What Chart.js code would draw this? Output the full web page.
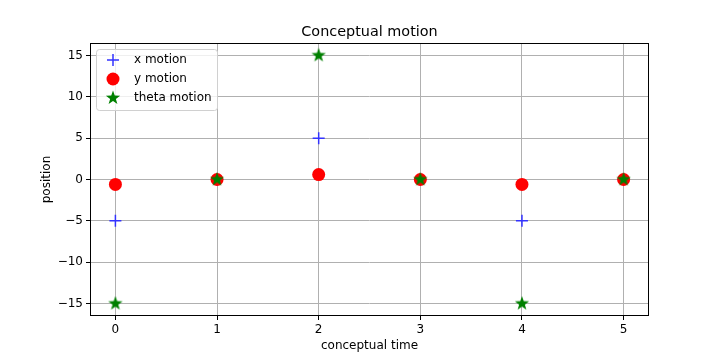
<!DOCTYPE html>
<html>
<head>
<meta charset="utf-8">
<script src="https://cdn.jsdelivr.net/npm/chart.js@4"></script>
<style>
  html, body { margin: 0; padding: 0; background: #fff; }
  #wrap { width: 720px; height: 360px; }
</style>
</head>
<body>
<div id="wrap"><canvas id="c"></canvas></div>
<script>
// data
const times = [0, 1, 2, 3, 4, 5];
const xMotion = [-5, 0, 5, 0, -5, 0];
const yMotion = [-0.6, 0, 0.6, 0, -0.6, 0];
const thetaMotion = [-15, 0, 15, 0, -15, 0];
const xTicks = [0, 1, 2, 3, 4, 5];
const yTicks = [-15, -10, -5, 0, 5, 10, 15];
const seriesNames = ['x motion', 'y motion', 'theta motion'];

const FONT = 'DejaVu Sans';

// filled star marker like matplotlib '*'
function starImage(size, color) {
  const cv = document.createElement('canvas');
  cv.width = size; cv.height = size;
  const g = cv.getContext('2d');
  const c = size / 2, ro = size / 2 - 0.5, ri = ro * 0.4;
  g.beginPath();
  for (let i = 0; i < 10; i++) {
    const r = i % 2 ? ri : ro;
    const a = -Math.PI / 2 + i * Math.PI / 5;
    const px = c + r * Math.cos(a), py = c + r * Math.sin(a);
    i ? g.lineTo(px, py) : g.moveTo(px, py);
  }
  g.closePath();
  g.fillStyle = color;
  g.fill();
  return cv;
}
const star = starImage(16, '#008000');

const pts = ys => times.map((t, i) => ({ x: t, y: ys[i] }));
const minus = v => String(v).replace('-', '\u2212');

const frameAndLegend = {
  id: 'frameAndLegend',
  afterDraw(chart) {
    const ctx = chart.ctx, a = chart.chartArea;
    ctx.save();
    // axes frame
    ctx.strokeStyle = '#000';
    ctx.lineWidth = 1;
    ctx.strokeRect(a.left + 0.5, a.top + 0.5, a.right - a.left - 1, a.bottom - a.top - 1);
    // title
    ctx.fillStyle = '#000';
    ctx.font = '14.4px ' + FONT;
    ctx.textAlign = 'center';
    ctx.textBaseline = 'middle';
    ctx.fillText('Conceptual motion', (a.left + a.right) / 2, 32);
    // legend box
    const lx = 96.5, ly = 49.5, lw = 121, lh = 61;
    ctx.beginPath();
    ctx.roundRect(lx, ly, lw, lh, 3);
    ctx.fillStyle = 'rgba(255,255,255,0.8)';
    ctx.fill();
    ctx.strokeStyle = '#d0d0d0';
    ctx.stroke();
    const rows = [60, 79, 98];
    ctx.font = '12px ' + FONT;
    ctx.textAlign = 'left';
    rows.forEach((y, i) => {
      const mx = 113;
      if (i === 0) {
        ctx.strokeStyle = '#3333ff';
        ctx.lineWidth = 1.5;
        ctx.beginPath();
        ctx.moveTo(mx - 6, y); ctx.lineTo(mx + 6, y);
        ctx.moveTo(mx, y - 6); ctx.lineTo(mx, y + 6);
        ctx.stroke();
      } else if (i === 1) {
        ctx.fillStyle = '#ff0000';
        ctx.beginPath();
        ctx.arc(mx, y, 6.5, 0, Math.PI * 2);
        ctx.fill();
      } else {
        ctx.drawImage(star, mx - 8, y - 8);
      }
      ctx.fillStyle = '#000';
      ctx.fillText(seriesNames[i], 134, y);
    });
    ctx.restore();
  }
};

new Chart(document.getElementById('c'), {
  type: 'scatter',
  data: {
    datasets: [
      {
        label: seriesNames[0], data: pts(xMotion), order: 3,
        pointStyle: 'cross', pointRadius: 6, pointBorderWidth: 1.5,
        borderColor: '#3333ff', backgroundColor: '#3333ff'
      },
      {
        label: seriesNames[1], data: pts(yMotion), order: 2,
        pointStyle: 'circle', pointRadius: 6.5, pointBorderWidth: 0,
        borderColor: '#ff0000', backgroundColor: '#ff0000'
      },
      {
        label: seriesNames[2], data: pts(thetaMotion), order: 1,
        pointStyle: star, pointRadius: 8,
        borderColor: '#008000', backgroundColor: '#008000'
      }
    ]
  },
  options: {
    responsive: true,
    maintainAspectRatio: false,
    animation: false,
    layout: { padding: { left: 40, right: 71, top: 43, bottom: 0 } },
    plugins: { legend: { display: false }, tooltip: { enabled: false } },
    scales: {
      x: {
        type: 'linear', min: -0.25, max: 5.25,
        afterBuildTicks: s => { s.ticks = xTicks.map(v => ({ value: v })); },
        afterFit: s => { s.height = 44; },
        grid: { color: '#b0b0b0', tickColor: '#000', tickLength: 4 },
        border: { display: false },
        ticks: { color: '#000', padding: 3, font: { family: FONT, size: 12 }, callback: v => minus(v) },
        title: { display: true, text: 'conceptual time', color: '#000', padding: { top: 7, bottom: 7 }, font: { family: FONT, size: 12 } }
      },
      y: {
        type: 'linear', min: -16.5, max: 16.5,
        afterBuildTicks: s => { s.ticks = yTicks.map(v => ({ value: v })); },
        afterFit: s => { s.width = 50; },
        grid: { color: '#b0b0b0', tickColor: '#000', tickLength: 4 },
        border: { display: false },
        ticks: { color: '#000', padding: 3, font: { family: FONT, size: 12 }, callback: v => minus(v) },
        title: { display: true, text: 'position', color: '#000', padding: { top: 0, bottom: 0 }, font: { family: FONT, size: 12 } }
      }
    }
  },
  plugins: [frameAndLegend]
});
</script>
</body>
</html>
